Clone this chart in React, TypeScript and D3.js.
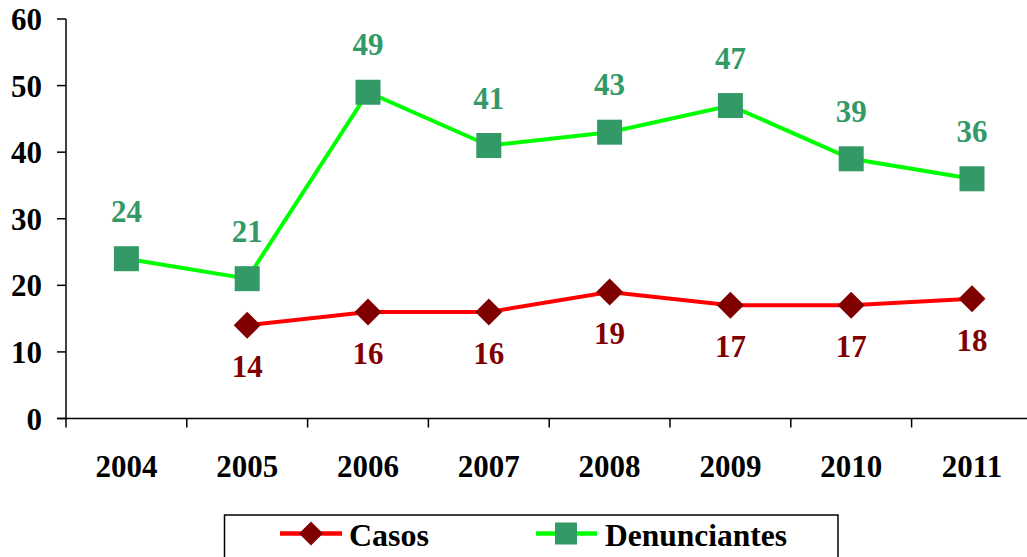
import React from "react";
import * as d3 from "d3";

const years = ["2004", "2005", "2006", "2007", "2008", "2009", "2010", "2011"];
const casos: (number | null)[] = [null, 14, 16, 16, 19, 17, 17, 18];
const denunciantes: number[] = [24, 21, 49, 41, 43, 47, 39, 36];
const yTicks = [0, 10, 20, 30, 40, 50, 60];

const W = 1027;
const H = 557;
const left = 66;
const bandW = 120.8;
const font = "'Liberation Serif', 'Times New Roman', serif";
const FS = 31;

export default function App() {
  const x = d3.scaleBand<string>().domain(years).range([left, left + bandW * years.length]);
  const y = d3.scaleLinear().domain([0, 60]).range([418.5, 19]);
  const cx = (d: string) => (x(d) as number) + x.bandwidth() / 2;

  const lineGen = d3
    .line<{ yr: string; v: number | null }>()
    .defined((d) => d.v !== null)
    .x((d) => cx(d.yr))
    .y((d) => y(d.v as number));

  const casosData = years.map((yr, i) => ({ yr, v: casos[i] }));
  const denData = years.map((yr, i) => ({ yr, v: denunciantes[i] as number | null }));

  const ticksX = d3.range(years.length + 1).map((i) => left + i * bandW);
  const diamond = (px: number, py: number, r: number) =>
    `M${px},${py - r}L${px + r},${py}L${px},${py + r}L${px - r},${py}Z`;

  return (
    <svg
      width={W}
      height={H}
      style={{ position: "absolute", left: 0, top: 0, background: "#fff" }}
      fontFamily={font}
      fontWeight="bold"
    >
      {/* y axis */}
      <line x1={left} x2={left} y1={y(60)} y2={y(0)} stroke="#000" strokeWidth={1.5} />
      {yTicks.map((t) => (
        <g key={t}>
          <line x1={left - 9} x2={left} y1={y(t)} y2={y(t)} stroke="#000" strokeWidth={1.5} />
          <text x={42} y={y(t) + 11} textAnchor="end" fontSize={FS}>
            {t}
          </text>
        </g>
      ))}
      {/* x axis */}
      <line x1={left - 9} x2={W} y1={y(0)} y2={y(0)} stroke="#000" strokeWidth={1.5} />
      {ticksX.map((t, i) => (
        <line key={i} x1={t} x2={t} y1={y(0)} y2={y(0) + 9} stroke="#000" strokeWidth={1.5} />
      ))}
      {years.map((yr) => (
        <text key={yr} x={cx(yr)} y={477} textAnchor="middle" fontSize={FS}>
          {yr}
        </text>
      ))}

      {/* Denunciantes */}
      <path d={lineGen(denData) || ""} fill="none" stroke="#00FF00" strokeWidth={4} />
      {denData.map((d) => (
        <g key={d.yr}>
          <rect
            x={cx(d.yr) - 12.5}
            y={y(d.v as number) - 12.5}
            width={25}
            height={25}
            fill="#339966"
          />
          <text x={cx(d.yr)} y={y(d.v as number) - 37} textAnchor="middle" fontSize={FS} fill="#339966">
            {d.v}
          </text>
        </g>
      ))}

      {/* Casos */}
      <path d={lineGen(casosData) || ""} fill="none" stroke="#FF0000" strokeWidth={4} />
      {casosData
        .filter((d) => d.v !== null)
        .map((d) => (
          <g key={d.yr}>
            <path d={diamond(cx(d.yr), y(d.v as number), 13.5)} fill="#800000" />
            <text x={cx(d.yr)} y={y(d.v as number) + 52} textAnchor="middle" fontSize={FS} fill="#800000">
              {d.v}
            </text>
          </g>
        ))}

      {/* Legend */}
      <rect x={224.5} y={515} width={613.5} height={60} fill="#fff" stroke="#000" strokeWidth={1.5} />
      <line x1={280} x2={342} y1={533.5} y2={533.5} stroke="#FF0000" strokeWidth={4.5} />
      <path d={diamond(311, 533.5, 12)} fill="#800000" />
      <text x={349} y={546} fontSize={32}>
        Casos
      </text>
      <line x1={536} x2={597} y1={533.5} y2={533.5} stroke="#00FF00" strokeWidth={4.5} />
      <rect x={555} y={522.5} width={22} height={22} fill="#339966" />
      <text x={605} y={546} fontSize={32} textLength={182} lengthAdjust="spacingAndGlyphs">
        Denunciantes
      </text>
    </svg>
  );
}
